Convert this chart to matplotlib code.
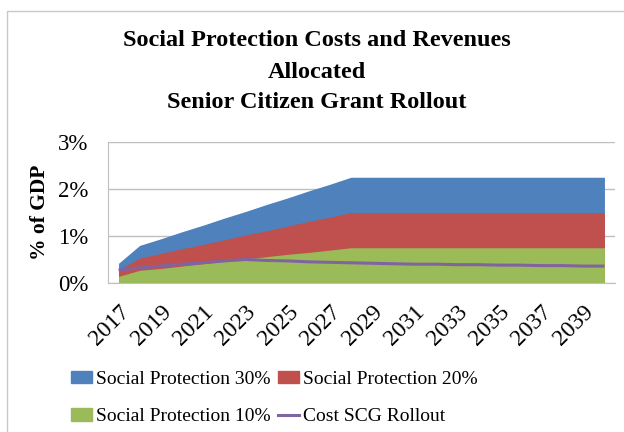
import numpy as np
import matplotlib
matplotlib.use("Agg")
import matplotlib.pyplot as plt
from matplotlib.patches import Patch, Rectangle
from matplotlib.lines import Line2D
from matplotlib.ticker import FuncFormatter

years = list(range(2017, 2041))
sp30 = [0.42, 0.80, 0.94, 1.09, 1.23, 1.38, 1.52, 1.67, 1.81, 1.96, 2.10, 2.25,
        2.25, 2.25, 2.25, 2.25, 2.25, 2.25, 2.25, 2.25, 2.25, 2.25, 2.25, 2.25]
sp20 = [0.28, 0.53, 0.63, 0.73, 0.82, 0.92, 1.02, 1.11, 1.21, 1.31, 1.40, 1.50,
        1.50, 1.50, 1.50, 1.50, 1.50, 1.50, 1.50, 1.50, 1.50, 1.50, 1.50, 1.50]
sp10 = [0.14, 0.27, 0.31, 0.36, 0.41, 0.46, 0.51, 0.56, 0.61, 0.65, 0.70, 0.75,
        0.75, 0.75, 0.75, 0.75, 0.75, 0.75, 0.75, 0.75, 0.75, 0.75, 0.75, 0.75]
cost_scg = [0.28, 0.32, 0.36, 0.40, 0.43, 0.47, 0.50, 0.48, 0.47, 0.45, 0.44, 0.43,
            0.42, 0.41, 0.40, 0.40, 0.39, 0.39, 0.38, 0.38, 0.37, 0.37, 0.36, 0.36]
series_labels = ["Social Protection 30%", "Social Protection 20%",
                 "Social Protection 10%", "Cost SCG Rollout"]
title_lines = ["Social Protection Costs and Revenues", "Allocated",
               "Senior Citizen Grant Rollout"]

C_BLUE, C_RED, C_GREEN, C_PURPLE = "#4F81BD", "#C0504D", "#9BBB59", "#8064A2"
GRID = "#BFBFBF"
FONT = "Liberation Serif"

fig = plt.figure(figsize=(6.24, 4.32), dpi=100)
ax = fig.add_axes([108/624, 1-283/432, (615-108)/624, (283-142)/432])

x = np.arange(len(years))
ax.fill_between(x, 0, sp30, color=C_BLUE, lw=0, zorder=2)
ax.fill_between(x, 0, sp20, color=C_RED, lw=0, zorder=3)
ax.fill_between(x, 0, sp10, color=C_GREEN, lw=0, zorder=4)
ax.plot(x, cost_scg, color=C_PURPLE, lw=2.2, zorder=5, solid_capstyle="butt")

ax.set_xlim(-0.5, len(years) - 0.5)
ax.set_ylim(0, 3)
ax.set_yticks([0, 1, 2, 3])
ax.yaxis.set_major_formatter(FuncFormatter(lambda v, p: f"{v:.0f}%"))
ax.set_xticks(x[::2])
ax.set_xticklabels([str(y) for y in years[::2]], rotation=45, ha="right",
                   va="top", rotation_mode="anchor", fontfamily=FONT, fontsize=17)
for t in ax.get_yticklabels():
    t.set_fontfamily(FONT)
    t.set_fontsize(16.5)
ax.tick_params(axis="x", length=0, pad=13)
ax.tick_params(axis="y", length=0, pad=14)
ax.grid(axis="y", color=GRID, lw=1, zorder=0)
ax.set_axisbelow(True)
for s in ["top", "right"]:
    ax.spines[s].set_visible(False)
ax.spines["left"].set_color(GRID)
ax.spines["bottom"].set_color(GRID)
ax.spines["bottom"].set_zorder(6)

fig.text(40/624, 1-212/432, "% of GDP", rotation=90, ha="center", va="center",
         fontfamily=FONT, fontweight="bold", fontsize=15.5)

for ty, line in zip([40, 72, 103], title_lines):
    fig.text(317/624, 1-ty/432, line, ha="center", va="center",
             fontfamily=FONT, fontweight="bold", fontsize=17.5)

handles = [Patch(color=C_BLUE), Patch(color=C_GREEN), Patch(color=C_RED),
           Line2D([], [], color=C_PURPLE, lw=2.2)]
labels = [series_labels[0], series_labels[2], series_labels[1], series_labels[3]]
fig.legend(handles, labels, ncol=2, loc="upper left",
           bbox_to_anchor=(71/624, 1-371/432), frameon=False, borderpad=0,
           borderaxespad=0, handlelength=1.1, handleheight=0.6, handletextpad=0.2,
           columnspacing=0.35, labelspacing=1.05,
           prop={"family": FONT, "size": 14})

fig.add_artist(Rectangle((7/624, -0.1), 1.2, (432-11)/432 + 0.1,
                         transform=fig.transFigure, fill=False,
                         edgecolor="#C8C8C8", lw=1))

fig.savefig("out.png", dpi=100)
